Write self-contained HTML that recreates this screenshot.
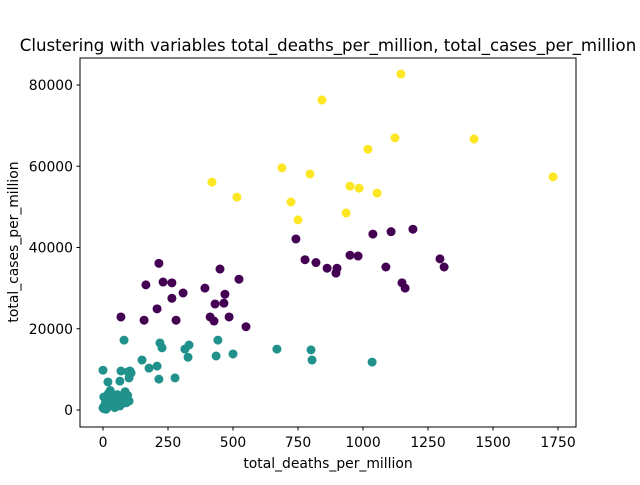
<!DOCTYPE html>
<html><head><meta charset="utf-8"><style>
body{margin:0;background:#fff;}
svg text{font-family:"DejaVu Sans","Liberation Sans",sans-serif;fill:#000;}
</style></head><body>
<svg id="chart" width="640" height="480">
<rect x="0" y="0" width="640" height="480" fill="#fff"/>
<text x="328" y="51" text-anchor="middle" font-size="16.6">Clustering with variables total_deaths_per_million, total_cases_per_million</text>
<g id="points"></g>
<rect x="80" y="58" width="496" height="369" fill="none" stroke="#000" stroke-width="1"/>
<g id="xt"></g>
<g id="yt"></g>
<text x="328" y="468" text-anchor="middle" font-size="13.9">total_deaths_per_million</text>
<text transform="translate(18,242) rotate(-90)" text-anchor="middle" font-size="13.9">total_cases_per_million</text>
</svg>
<script>
const xTicks=[0,250,500,750,1000,1250,1500,1750];
const yTicks=[0,20000,40000,60000,80000];
const clusterColors=["#440154","#21918c","#fde725"];
const yellowX=[1146,842,1427,1123,1019,688,796,419,1731,950,985,1054,515,723,750,935];
const yellowY=[82700,76300,66700,67000,64200,59600,58100,56100,57400,55100,54600,53400,52400,51200,46800,48500];
const purpleX=[742,1192,1108,1038,215,777,819,950,981,862,900,896,1088,1296,1312,1150,1162,231,265,450,523,165,308,392,265,469,431,465,208,550,69,158,281,412,427,485];
const purpleY=[42100,44500,43900,43300,36100,37000,36300,38100,37900,34900,34900,33700,35200,37200,35200,31300,30000,31500,31300,34700,32200,30800,28800,30000,27500,28500,26100,26300,24900,20500,22900,22100,22100,22900,21900,22900];
const tealX=[81,219,227,331,315,327,442,435,500,669,800,804,1035,150,208,177,96,100,69,0,215,277,19,65,108,104,0,5,10,15,20,25,30,40,50,60,70,80,85,90,100,5,12,20,35,45,55,65,75,3,28,95];
const tealY=[17200,16500,15300,16000,15000,13000,17200,13300,13800,15000,14800,12300,11800,12300,10800,10300,9400,7900,9600,9800,7600,7900,6900,7100,9100,9600,500,1000,2000,3000,4000,1500,2500,3500,2000,1500,2500,3000,4500,1800,2200,300,200,800,1200,600,3800,1000,1600,3200,4800,3600];
const NS="http://www.w3.org/2000/svg";
function sx(v){return 103+v*0.26;}
function sy(v){return 410-v*0.0040625;}
const pg=document.getElementById('points');
function draw(xs,ys,color,name){
  for(let i=0;i<xs.length;i++){
    const c=document.createElementNS(NS,'circle');
    c.setAttribute('cx',sx(xs[i]));c.setAttribute('cy',sy(ys[i]));c.setAttribute('r',4.5);c.setAttribute('fill',color);
    
    
    pg.appendChild(c);
  }
}
draw(tealX,tealY,clusterColors[1],'teal-point');
draw(purpleX,purpleY,clusterColors[0],'purple-point');
draw(yellowX,yellowY,clusterColors[2],'yellow-point');
const xg=document.getElementById('xt');
xTicks.forEach(t=>{
  const l=document.createElementNS(NS,'line');
  l.setAttribute('x1',sx(t));l.setAttribute('x2',sx(t));l.setAttribute('y1',427);l.setAttribute('y2',430.5);l.setAttribute('stroke','#000');
  
  
  xg.appendChild(l);
  const tx=document.createElementNS(NS,'text');
  tx.setAttribute('x',sx(t));tx.setAttribute('y',447);tx.setAttribute('text-anchor','middle');tx.setAttribute('font-size','13.9');
  tx.textContent=t;
  
  
  xg.appendChild(tx);
});
const yg=document.getElementById('yt');
yTicks.forEach(t=>{
  const l=document.createElementNS(NS,'line');
  l.setAttribute('x1',76.5);l.setAttribute('x2',80);l.setAttribute('y1',sy(t));l.setAttribute('y2',sy(t));l.setAttribute('stroke','#000');
  
  
  yg.appendChild(l);
  const tx=document.createElementNS(NS,'text');
  tx.setAttribute('x',73);tx.setAttribute('y',sy(t)+5);tx.setAttribute('text-anchor','end');tx.setAttribute('font-size','13.9');
  tx.textContent=t;
  
  
  yg.appendChild(tx);
});
</script>
</body></html>
